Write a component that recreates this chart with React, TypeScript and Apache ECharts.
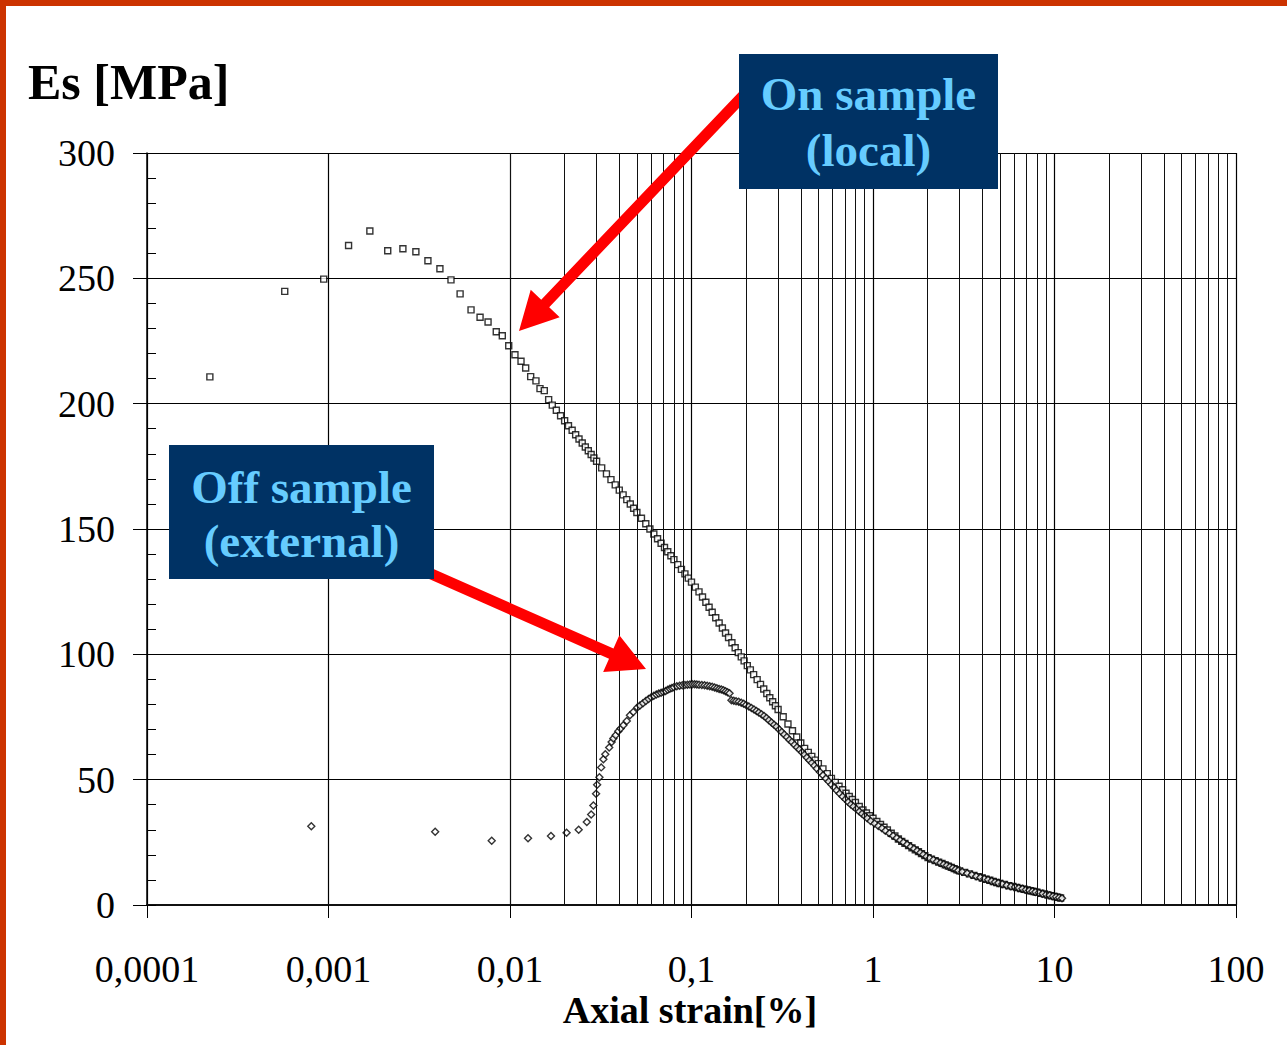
import { useEffect, useRef } from "react";
import * as echarts from "echarts";

// Decade tick labels (decimal comma) and stiffness ticks
const xTickLabels = ["0,0001", "0,001", "0,01", "0,1", "1", "10", "100"];
const yTickValues = [0, 50, 100, 150, 200, 250, 300];

// On-sample (local) transducers: axial strain [%] and secant modulus Es [MPa]
const localStrain = [
  0.000222, 0.000574, 0.000941, 0.00129, 0.00169, 0.00212, 0.00257, 0.00303, 0.00353, 0.00411,
  0.00473, 0.00531, 0.0061, 0.00684, 0.00757, 0.0084, 0.00907, 0.00984, 0.01065, 0.0115,
  0.0122, 0.013, 0.0139, 0.01463, 0.01545, 0.01633, 0.0171,
  0.018, 0.019, 0.02, 0.021, 0.022, 0.023, 0.024, 0.025, 0.026, 0.027, 0.028, 0.029, 0.03,
  0.032, 0.034, 0.036, 0.038, 0.04, 0.042, 0.044, 0.046, 0.048, 0.05, 0.053, 0.056, 0.059,
  0.062, 0.065, 0.068, 0.071, 0.074, 0.077, 0.08, 0.084, 0.088, 0.092, 0.096, 0.1, 0.105, 0.11,
  0.115, 0.12, 0.125, 0.13, 0.136, 0.142, 0.148, 0.154, 0.16, 0.167, 0.174,
  0.181, 0.188, 0.195, 0.203, 0.211, 0.22, 0.23, 0.24, 0.25, 0.26, 0.27, 0.28, 0.29, 0.3, 0.32,
  0.34, 0.36, 0.38, 0.4, 0.42, 0.44, 0.46, 0.48, 0.5, 0.53, 0.56, 0.59,
  0.62, 0.65, 0.68, 0.71, 0.74, 0.77, 0.8, 0.84, 0.88, 0.92, 0.96, 1.0, 1.05, 1.1, 1.15, 1.2,
  1.26, 1.32, 1.38, 1.44, 1.5, 1.57, 1.64, 1.71, 1.78, 1.85, 1.93, 2.01, 2.1, 2.2, 2.3, 2.4,
  2.5, 2.6, 2.7, 2.8, 2.9, 3.0, 3.2, 3.4, 3.6, 3.8, 4.0, 4.2, 4.4, 4.6, 4.8, 5.0, 5.3, 5.6,
  5.9, 6.2, 6.5, 6.8, 7.1, 7.4, 7.7, 8.0, 8.4, 8.8, 9.2, 9.6, 10.0, 10.4, 10.8,
];
const localModulus = [
  210.7, 244.8, 249.7, 263.1, 268.9, 261.0, 261.8, 260.6, 257.0, 253.8,
  249.4, 243.8, 237.4, 234.5, 232.6, 228.7, 227.1, 223.1, 219.5, 216.9,
  214.2, 210.8, 209.1, 206.0, 205.2, 201.6, 199.4,
  197.4, 195.2, 193.2, 191.2, 189.4, 187.6, 185.9, 184.3, 182.7, 181.2, 179.7, 178.3, 177.0,
  174.4, 172.0, 169.7, 167.6, 165.5, 163.6, 161.7, 160.0, 158.3, 156.6, 154.3, 152.1, 150.0,
  148.0, 146.1, 144.3, 142.6, 140.9, 139.3, 137.8, 135.8, 133.9, 132.1, 130.4, 128.8, 126.8, 124.9,
  122.9, 120.8, 118.8, 116.8, 114.6, 112.5, 110.5, 108.5, 106.7, 104.6, 102.6,
  100.7, 99.0, 97.4, 95.5, 93.8, 91.9, 89.9, 88.0, 86.2, 84.4, 82.7, 81.1, 79.5, 78.0, 75.1,
  72.2, 69.5, 67.0, 64.6, 62.5, 60.9, 59.3, 57.8, 56.4, 54.3, 52.4, 50.5,
  48.9, 47.4, 46.0, 44.6, 43.3, 42.1, 40.9, 39.3, 37.9, 36.7, 35.6, 34.6, 33.3, 32.1, 31.0, 29.9,
  28.6, 27.5, 26.3, 25.4, 24.6, 23.7, 22.8, 22.0, 21.3, 20.5, 19.7, 18.9, 18.3, 17.7, 17.1, 16.6,
  16.0, 15.5, 15.0, 14.5, 14.0, 13.6, 13.0, 12.4, 11.8, 11.3, 10.8, 10.3, 9.9, 9.4, 9.0, 8.6, 8.2, 7.7,
  7.4, 7.0, 6.6, 6.3, 6.0, 5.7, 5.4, 5.1, 4.7, 4.4, 4.0, 3.7, 3.4, 3.1, 2.8,
];

// Off-sample (external) measurement: axial strain [%] and secant modulus Es [MPa]
const externalStrain = [
  0.000804, 0.00387, 0.00793, 0.01257, 0.01682, 0.0205, 0.0239, 0.0265, 0.028, 0.0288,
  0.0298, 0.0302, 0.0311, 0.0318, 0.0327, 0.0335, 0.0352, 0.0363, 0.0371, 0.0382,
  0.0395, 0.0407, 0.0421, 0.044, 0.0458, 0.0478, 0.0503,
  0.052, 0.054, 0.056, 0.058, 0.06, 0.062, 0.064, 0.066, 0.068, 0.07, 0.072, 0.074, 0.076,
  0.078, 0.08, 0.083, 0.086, 0.089, 0.092, 0.095, 0.098, 0.101, 0.104, 0.107, 0.11,
  0.114, 0.118, 0.122, 0.126, 0.13, 0.134, 0.138, 0.142, 0.146, 0.15, 0.154, 0.158, 0.162,
  0.166, 0.171, 0.176, 0.182, 0.188, 0.194, 0.2, 0.207, 0.214, 0.221, 0.228, 0.235, 0.243,
  0.251, 0.259, 0.267, 0.276, 0.285, 0.294, 0.304, 0.314, 0.324, 0.335, 0.346, 0.357, 0.369,
  0.381, 0.393, 0.406, 0.419, 0.432, 0.446, 0.46, 0.475, 0.49, 0.51, 0.53, 0.55, 0.57, 0.59,
  0.61, 0.63, 0.655, 0.68, 0.705, 0.73, 0.755, 0.78, 0.81, 0.84, 0.87, 0.9, 0.93, 0.97,
  1.02, 1.07, 1.12, 1.17, 1.23, 1.29, 1.35, 1.41, 1.47, 1.54, 1.61, 1.68, 1.75, 1.82, 1.89,
  1.97, 2.05, 2.15, 2.25, 2.35, 2.45, 2.55, 2.65, 2.75, 2.85, 2.95, 3.1, 3.3, 3.5, 3.7, 3.9,
  4.1, 4.3, 4.5, 4.7, 4.9, 5.15, 5.45, 5.75, 6.05, 6.35, 6.65, 6.95, 7.25, 7.55, 7.85, 8.2,
  8.6, 9.0, 9.4, 9.8, 10.2, 10.6, 11.0,
];
const externalModulus = [
  31.4, 29.2, 25.6, 26.6, 27.5, 28.8, 30.0, 33.1, 36.1, 39.7,
  44.4, 48.0, 51.0, 54.9, 58.1, 60.1, 62.8, 65.0, 66.4, 67.7,
  69.3, 70.4, 71.7, 73.4, 75.7, 77.0, 78.8,
  79.6, 80.5, 81.4, 82.2, 82.9, 83.5, 84.0, 84.4, 84.7, 85.0, 85.4, 85.9, 86.3,
  86.6, 86.9, 87.3, 87.5, 87.7, 87.8, 87.9, 88.0, 88.1, 88.1, 88.0, 87.9,
  87.8, 87.7, 87.5, 87.3, 87.1, 86.8, 86.5, 86.2, 86.0, 85.7, 85.3, 84.9, 84.5,
  81.7, 81.5, 81.3, 81.1, 80.7, 80.3, 79.8, 79.2, 78.6, 78.0, 77.4, 76.8, 76.1,
  75.4, 74.6, 73.7, 72.8, 71.9, 71.1, 70.0, 69.0, 68.0, 67.0, 65.9, 65.0, 63.9,
  62.9, 62.0, 60.9, 59.9, 58.8, 57.7, 56.7, 55.6, 54.5, 53.1, 51.8, 50.5, 49.3, 48.1,
  46.9, 45.8, 44.5, 43.3, 42.2, 41.1, 40.1, 39.3, 38.3, 37.3, 36.4, 35.5, 34.6, 33.5,
  32.5, 31.5, 30.6, 29.6, 28.6, 27.6, 26.7, 25.8, 25.0, 24.1, 23.2, 22.4, 21.6, 20.8, 20.1,
  19.3, 18.7, 18.0, 17.4, 16.8, 16.3, 15.8, 15.3, 14.8, 14.3, 13.8, 13.3, 12.7, 12.1, 11.5, 11.0,
  10.5, 10.1, 9.6, 9.2, 8.8, 8.4, 7.9, 7.5, 7.2, 6.8, 6.5, 6.1, 5.8, 5.5, 5.2, 4.9,
  4.5, 4.2, 3.9, 3.5, 3.3, 3.0, 2.7,
];

// Logarithmic minor grid: 2..9 within every decade of the strain axis
const gridDecades = [0.0001, 0.001, 0.01, 0.1, 1, 10];
const gridMultipliers = [2, 3, 4, 5, 6, 7, 8, 9];

const SERIF = '"Liberation Serif", "Times New Roman", serif';
const RED = "#ff0000";
const NAVY = "#003264";
const LABEL_BLUE = "#66ccff";

type Pt = [number, number];

// Block arrow (shaft + triangular head) as a single polygon
function arrowPolygon(tail: Pt, tip: Pt, shaft: number, headLen: number, headHalf: number): Pt[] {
  const dx = tip[0] - tail[0];
  const dy = tip[1] - tail[1];
  const len = Math.hypot(dx, dy);
  const ux = dx / len;
  const uy = dy / len;
  const px = -uy;
  const py = ux;
  const bx = tip[0] - ux * headLen;
  const by = tip[1] - uy * headLen;
  const s = shaft / 2;
  return [
    [tail[0] + px * s, tail[1] + py * s],
    [bx + px * s, by + py * s],
    [bx + px * headHalf, by + py * headHalf],
    [tip[0], tip[1]],
    [bx - px * headHalf, by - py * headHalf],
    [bx - px * s, by - py * s],
    [tail[0] - px * s, tail[1] - py * s],
  ];
}

function labelBox(x: number, y: number, w: number, h: number, lines: [string, number][]) {
  return [
    { type: "rect", z: 110, shape: { x, y, width: w, height: h }, style: { fill: NAVY } },
    ...lines.map(([text, ly]) => ({
      type: "text",
      z: 111,
      x: x + w / 2,
      y: ly,
      style: {
        text,
        fill: LABEL_BLUE,
        font: `bold 47px ${SERIF}`,
        textAlign: "center",
        textVerticalAlign: "middle",
        align: "center",
        verticalAlign: "middle",
      },
    })),
  ];
}

export default function App() {
  const ref = useRef<HTMLDivElement>(null);

  useEffect(() => {
    if (!ref.current) return;
    const chart = echarts.init(ref.current, undefined, { renderer: "svg" });

    const localData = localStrain.map((s, i) => [s, localModulus[i]]);
    const externalData = externalStrain.map((s, i) => [s, externalModulus[i]]);
    const minorLines: { xAxis: number }[] = [];
    gridDecades.forEach((d) => gridMultipliers.forEach((m) => minorLines.push({ xAxis: d * m })));

    chart.setOption({
      animation: false,
      backgroundColor: "#ffffff",
      grid: { left: 147, right: 51, top: 153, bottom: 140, containLabel: false },
      xAxis: {
        type: "log",
        logBase: 10,
        min: 0.0001,
        max: 100,
        splitNumber: 6,
        axisLine: { show: true, lineStyle: { color: "#111", width: 2 } },
        axisTick: { show: true, inside: false, length: 13, lineStyle: { color: "#000", width: 1 } },
        minorTick: { show: false },
        splitLine: { show: true, lineStyle: { color: "#000", width: 1.2 } },
        axisLabel: {
          show: true,
          margin: 45,
          color: "#000",
          fontSize: 38,
          fontFamily: SERIF,
          showMinLabel: true,
          showMaxLabel: true,
          formatter: (v: number) => xTickLabels[Math.round(Math.log10(v)) + 4] ?? "",
        },
      },
      yAxis: [
        {
          type: "value",
          min: yTickValues[0],
          max: yTickValues[yTickValues.length - 1],
          interval: 50,
          axisLine: { show: true, lineStyle: { color: "#000", width: 1.5 } },
          axisTick: { show: true, inside: false, length: 14, lineStyle: { color: "#000", width: 1 } },
          splitLine: { show: true, lineStyle: { color: "#000", width: 1 } },
          axisLabel: {
            margin: 32,
            color: "#000",
            fontSize: 38,
            fontFamily: SERIF,
          },
        },
        {
          type: "value",
          position: "left",
          min: 0,
          max: 300,
          interval: 10,
          axisLine: { show: false },
          axisTick: { show: true, inside: true, length: 9, lineStyle: { color: "#000", width: 1 } },
          splitLine: { show: false },
          axisLabel: { show: false },
        },
      ],
      series: [
        {
          name: "grid",
          type: "line",
          data: [],
          z: 1,
          silent: true,
          markLine: {
            silent: true,
            symbol: ["none", "none"],
            label: { show: false },
            lineStyle: { color: "#111", width: 1, type: "solid", opacity: 1 },
            emphasis: { disabled: true },
            data: minorLines,
          },
        },
        {
          name: "On sample (local)",
          type: "scatter",
          data: localData,
          symbol: "rect",
          symbolSize: 6,
          z: 3,
          itemStyle: { color: "#ffffff", borderColor: "#000", borderWidth: 1.4 },
        },
        {
          name: "Off sample (external)",
          type: "scatter",
          data: externalData,
          symbol: "diamond",
          symbolSize: 7,
          z: 4,
          itemStyle: { color: "#ffffff", borderColor: "#000", borderWidth: 1.4 },
        },
      ],
      graphic: [
        // slide frame
        { type: "rect", z: 120, shape: { x: 0, y: 0, width: 6, height: 1045 }, style: { fill: "#cc3300" } },
        { type: "rect", z: 120, shape: { x: 0, y: 0, width: 1287, height: 6 }, style: { fill: "#cc3300" } },
        // axis titles
        {
          type: "text",
          z: 100,
          x: 28,
          y: 82,
          style: {
            text: "Es [MPa]",
            fill: "#000",
            font: `bold 50px ${SERIF}`,
            textAlign: "left",
            textVerticalAlign: "middle",
            align: "left",
            verticalAlign: "middle",
          },
        },
        {
          type: "text",
          z: 100,
          x: 690,
          y: 1010,
          style: {
            text: "Axial strain[%]",
            fill: "#000",
            font: `bold 38px ${SERIF}`,
            textAlign: "center",
            textVerticalAlign: "middle",
            align: "center",
            verticalAlign: "middle",
          },
        },
        // callout arrows
        {
          type: "polygon",
          z: 105,
          shape: { points: arrowPolygon([760, 78], [519, 331], 11, 38, 20) },
          style: { fill: RED },
        },
        {
          type: "polygon",
          z: 105,
          shape: { points: arrowPolygon([420, 569], [646, 669], 11, 38, 20) },
          style: { fill: RED },
        },
        // callout boxes
        ...labelBox(739, 54, 259, 135, [["On sample", 94], ["(local)", 150]]),
        ...labelBox(169, 445, 265, 134, [["Off sample", 487], ["(external)", 541]]),
      ],
    });

    return () => chart.dispose();
  }, []);

  return (
    <div
      ref={ref}
      style={{ position: "fixed", left: 0, top: 0, width: 1287, height: 1045, background: "#fff" }}
    />
  );
}
